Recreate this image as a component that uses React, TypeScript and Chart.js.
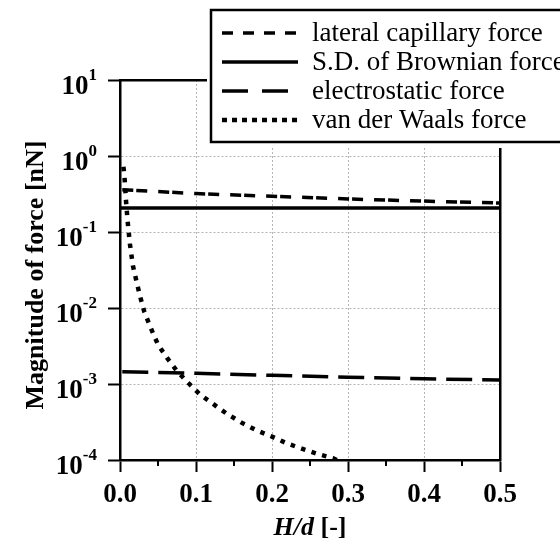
import React, { useEffect, useRef } from "react";
import { Chart, registerables } from "chart.js";

Chart.register(...registerables);

const X_TICKS = [0, 0.1, 0.2, 0.3, 0.4, 0.5];
const X_TICK_LABELS = ["0.0", "0.1", "0.2", "0.3", "0.4", "0.5"];
const X_MINOR_TICKS = [0.05, 0.15, 0.25, 0.35, 0.45];
const Y_TICKS = [1e-4, 1e-3, 1e-2, 1e-1, 1, 10];
const Y_TICK_EXPONENTS = ["-4", "-3", "-2", "-1", "0", "1"];

const SERIES_LABELS = [
  "lateral capillary force",
  "S.D. of Brownian force",
  "electrostatic force",
  "van der Waals force",
];

const LATERAL_X = [0.003, 0.1, 0.2, 0.3, 0.4, 0.503];
const LATERAL_Y = [0.36, 0.32, 0.295, 0.272, 0.255, 0.24];

const BROWNIAN_X = [0, 0.503];
const BROWNIAN_Y = [0.207, 0.207];

const ELECTRO_X = [0.003, 0.1, 0.2, 0.3, 0.4, 0.503];
const ELECTRO_Y = [0.00145, 0.00138, 0.0013, 0.00123, 0.00117, 0.00113];

const VDW_X = [
  0.0045, 0.006, 0.008, 0.01, 0.013, 0.017, 0.021, 0.026, 0.032, 0.04, 0.05,
  0.062, 0.075, 0.09, 0.105, 0.12, 0.14, 0.16, 0.18, 0.2, 0.22, 0.24, 0.26,
  0.28, 0.292,
];
const VDW_Y = [
  0.72, 0.52, 0.25, 0.14, 0.07, 0.036, 0.024, 0.0148, 0.0089, 0.0056, 0.0033,
  0.0022, 0.00148, 0.00103, 0.00073, 0.00057, 0.00041, 0.00031, 0.000245,
  0.000203, 0.000165, 0.00014, 0.00012, 0.000106, 0.000093,
];

const zip = (xs: number[], ys: number[]) => xs.map((x, i) => ({ x, y: ys[i] }));

const SERIF = '"Liberation Serif", "Times New Roman", serif';

const decorPlugin = {
  id: "decor",
  afterDraw(chart: any) {
    const { ctx, chartArea, scales } = chart;
    const xs = scales.x;
    const ys = scales.y;
    ctx.save();
    ctx.fillStyle = "#000";
    ctx.strokeStyle = "#000";

    // minor x ticks
    ctx.lineWidth = 2;
    ctx.setLineDash([]);
    X_MINOR_TICKS.forEach((v) => {
      const px = Math.round(xs.getPixelForValue(v));
      ctx.beginPath();
      ctx.moveTo(px, chartArea.bottom);
      ctx.lineTo(px, chartArea.bottom + 6);
      ctx.stroke();
    });

    // x tick labels
    ctx.font = `bold 27px ${SERIF}`;
    ctx.textAlign = "center";
    ctx.textBaseline = "alphabetic";
    X_TICKS.forEach((v, i) => {
      ctx.fillText(X_TICK_LABELS[i], xs.getPixelForValue(v), chartArea.bottom + 42);
    });

    // y tick labels: 10^n
    Y_TICKS.forEach((v, i) => {
      const py = ys.getPixelForValue(v);
      const right = chartArea.left - 23;
      ctx.textAlign = "right";
      ctx.font = `bold 17px ${SERIF}`;
      const exp = Y_TICK_EXPONENTS[i];
      const expW = ctx.measureText(exp).width;
      ctx.fillText(exp, right, py);
      ctx.font = `bold 27px ${SERIF}`;
      ctx.fillText("10", right - expW, py + 14);
    });

    // x title: H/d [-]
    const cx = (chartArea.left + chartArea.right) / 2;
    ctx.font = `italic bold 26px ${SERIF}`;
    const part1 = "H/d";
    const w1 = ctx.measureText(part1).width;
    ctx.font = `bold 26px ${SERIF}`;
    const part2 = " [-]";
    const w2 = ctx.measureText(part2).width;
    const startX = cx - (w1 + w2) / 2;
    ctx.textAlign = "left";
    ctx.font = `italic bold 26px ${SERIF}`;
    ctx.fillText(part1, startX, chartArea.bottom + 75);
    ctx.font = `bold 26px ${SERIF}`;
    ctx.fillText(part2, startX + w1, chartArea.bottom + 75);

    // y title
    ctx.save();
    ctx.translate(43, (chartArea.top + chartArea.bottom) / 2 + 5);
    ctx.rotate(-Math.PI / 2);
    ctx.textAlign = "center";
    ctx.font = `bold 26px ${SERIF}`;
    ctx.fillText("Magnitude of force [nN]", 0, 0);
    ctx.restore();

    // legend box
    const bx = 211;
    const by = 10;
    const bw = 400;
    const bh = 132;
    ctx.fillStyle = "#fff";
    ctx.fillRect(bx - 4, by - 4, bw + 8, bh + 10);
    ctx.strokeStyle = "#000";
    ctx.lineWidth = 2.5;
    ctx.setLineDash([]);
    ctx.strokeRect(bx, by, bw, bh);

    chart.data.datasets.forEach((ds: any, i: number) => {
      const rowY = 33 + i * 29;
      ctx.beginPath();
      ctx.lineWidth = ds.borderWidth;
      ctx.lineCap = "butt";
      ctx.setLineDash(ds.legendDash || []);
      ctx.moveTo(222, rowY);
      ctx.lineTo(298, rowY);
      ctx.stroke();
      ctx.setLineDash([]);
      ctx.fillStyle = "#000";
      ctx.font = `27px ${SERIF}`;
      ctx.textAlign = "left";
      ctx.textBaseline = "alphabetic";
      ctx.fillText(ds.label, 312, rowY + 8);
    });

    ctx.restore();
  },
};

export default function App() {
  const canvasRef = useRef<HTMLCanvasElement | null>(null);

  useEffect(() => {
    document.body.style.margin = "0";
    const canvas = canvasRef.current;
    if (!canvas) return;

    const gridColor = "#b4b4b4";

    const chart = new Chart(canvas, {
      type: "scatter",
      data: {
        datasets: [
          {
            label: SERIES_LABELS[0],
            data: zip(LATERAL_X, LATERAL_Y),
            showLine: true,
            borderColor: "#000",
            borderWidth: 3.5,
            borderDash: [11, 3, 11, 11],
            legendDash: [11, 10],
            pointRadius: 0,
          } as any,
          {
            label: SERIES_LABELS[1],
            data: zip(BROWNIAN_X, BROWNIAN_Y),
            showLine: true,
            borderColor: "#000",
            borderWidth: 3.5,
            borderDash: [],
            legendDash: [],
            pointRadius: 0,
          } as any,
          {
            label: SERIES_LABELS[2],
            data: zip(ELECTRO_X, ELECTRO_Y),
            showLine: true,
            borderColor: "#000",
            borderWidth: 3.5,
            borderDash: [26, 10],
            legendDash: [26, 14],
            pointRadius: 0,
          } as any,
          {
            label: SERIES_LABELS[3],
            data: zip(VDW_X, VDW_Y),
            showLine: true,
            borderColor: "#000",
            borderWidth: 4.5,
            borderDash: [4.5, 6.5],
            legendDash: [5, 5],
            pointRadius: 0,
          } as any,
        ],
      },
      options: {
        animation: false,
        responsive: false,
        maintainAspectRatio: false,
        layout: { padding: { left: 108, right: 60, top: 80, bottom: 74 } },
        plugins: {
          legend: { display: false },
          tooltip: { enabled: false },
        },
        scales: {
          x: {
            type: "linear",
            position: "bottom",
            min: 0,
            max: 0.5,
            afterBuildTicks: (scale: any) => {
              scale.ticks = X_TICKS.map((v) => ({ value: v }));
            },
            ticks: { display: false },
            grid: {
              color: gridColor,
              lineWidth: 1,
              drawTicks: true,
              tickLength: 12,
              tickColor: "#000",
              tickWidth: 2,
              tickBorderDash: [],
            },
            border: { display: true, color: "#000", width: 2.5, dash: [2, 2] },
          },
          y: {
            type: "logarithmic",
            position: "left",
            min: 1e-4,
            max: 10,
            afterBuildTicks: (scale: any) => {
              scale.ticks = Y_TICKS.map((v) => ({ value: v }));
            },
            ticks: { display: false },
            grid: {
              color: gridColor,
              lineWidth: 1,
              drawTicks: true,
              tickLength: 12,
              tickColor: "#000",
              tickWidth: 2,
              tickBorderDash: [],
            },
            border: { display: true, color: "#000", width: 2.5, dash: [2, 2] },
          },
          x2: {
            type: "linear",
            position: "top",
            min: 0,
            max: 0.5,
            ticks: { display: false },
            grid: { display: true, drawOnChartArea: false, drawTicks: false },
            border: { display: true, color: "#000", width: 2.5 },
          },
          y2: {
            type: "linear",
            position: "right",
            min: 0,
            max: 1,
            ticks: { display: false },
            grid: { display: true, drawOnChartArea: false, drawTicks: false },
            border: { display: true, color: "#000", width: 2.5 },
          },
        },
      } as any,
      plugins: [decorPlugin],
    });

    return () => chart.destroy();
  }, []);

  return (
    <div style={{ position: "absolute", left: 0, top: 0, width: 560, height: 546 }}>
      <canvas ref={canvasRef} width={560} height={546} />
    </div>
  );
}
